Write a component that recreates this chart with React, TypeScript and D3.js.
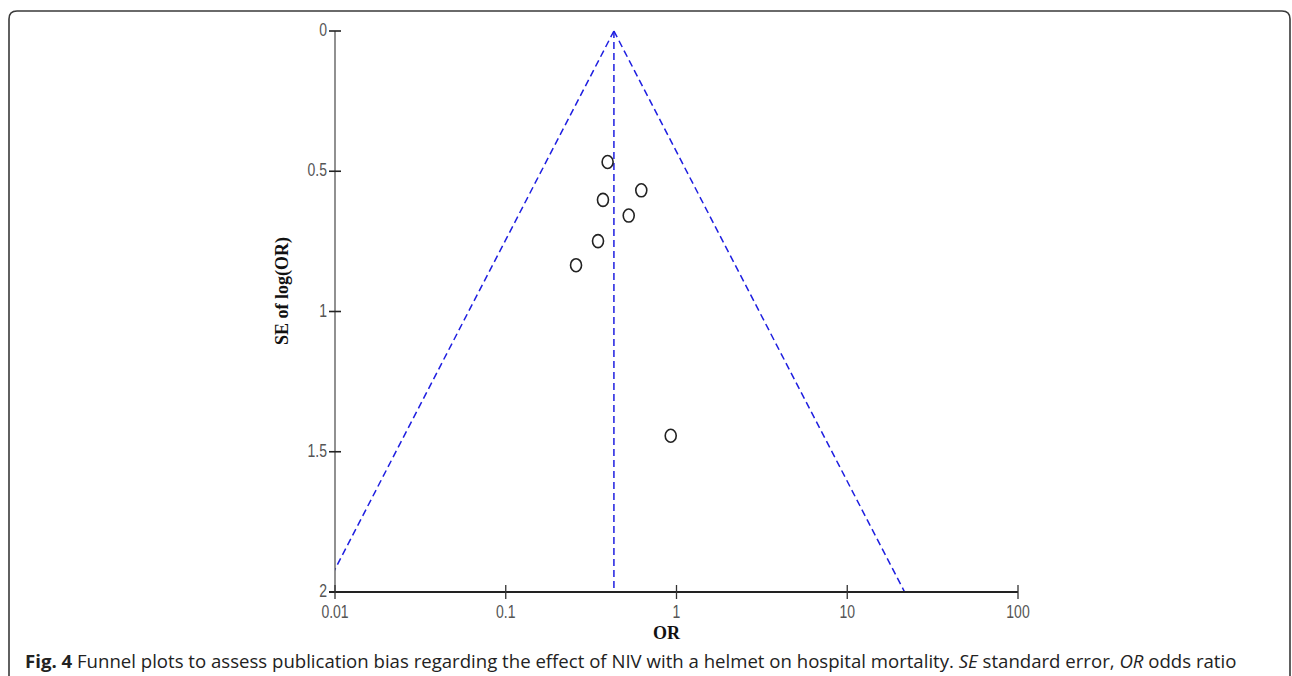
import React, { useEffect, useRef } from 'react'
import * as d3 from 'd3'

// study estimates
const studyOR = [0.395, 0.622, 0.371, 0.525, 0.347, 0.258, 0.925]
const studySE = [0.467, 0.568, 0.602, 0.658, 0.749, 0.835, 1.443]
const pooledOR = 0.43

const xTicks = [0.01, 0.1, 1, 10, 100]
const xTickLabels = ['0.01', '0.1', '1', '10', '100']
const yTicks = [0, 0.5, 1, 1.5, 2]
const yTickLabels = ['0', '0.5', '1', '1.5', '2']

const App = () => {
  const svgRef = useRef<SVGSVGElement>(null)

  useEffect(() => {
    const width = 1292
    const height = 676
    const left = 335
    const right = 1018
    const top = 31
    const bottom = 592

    const svg = d3.select(svgRef.current)
    svg.selectAll('*').remove()
    svg.attr('width', width).attr('height', height).attr('viewBox', [0, 0, width, height])

    // frame
    svg
      .append('path')
      .attr('d', `M9,${height} L9,19 Q9,11 17,11 L1282,11 Q1290,11 1290,19 L1290,${height}`)
      .attr('fill', 'none')
      .attr('stroke', '#3a3a3a')
      .attr('stroke-width', 1.6)

    const x = d3.scaleLog().domain([0.01, 100]).range([left, right])
    const y = d3.scaleLinear().domain([0, 2]).range([top, bottom])

    // funnel
    const z = 1.96 / Math.LN10
    const lp = Math.log10(pooledOR)
    const seMax = 2
    const clip = svg.append('clipPath').attr('id', 'plotclip')
    clip.append('rect').attr('x', left).attr('y', 0).attr('width', right - left).attr('height', bottom)
    const funnel = [
      [[pooledOR, 0], [Math.pow(10, lp - z * seMax), seMax]],
      [[pooledOR, 0], [Math.pow(10, lp + z * seMax), seMax]],
      [[pooledOR, 0], [pooledOR, seMax]],
    ]
    const line = d3
      .line<number[]>()
      .x((d) => x(d[0]))
      .y((d) => y(d[1]))
    svg
      .append('g')
      .attr('clip-path', 'url(#plotclip)')
      .selectAll('path')
      .data(funnel)
      .enter()
      .append('path')
      .attr('d', (d) => line(d))
      .attr('fill', 'none')
      .attr('stroke', '#1e1ee0')
      .attr('stroke-width', 1.5)
      .attr('stroke-dasharray', '7,4')

    // axes
    svg
      .append('line')
      .attr('x1', left)
      .attr('x2', left)
      .attr('y1', top)
      .attr('y2', bottom)
      .attr('stroke', '#555')
      .attr('stroke-width', 1.3)
    svg
      .append('line')
      .attr('x1', left - 6)
      .attr('x2', right)
      .attr('y1', bottom)
      .attr('y2', bottom)
      .attr('stroke', '#222')
      .attr('stroke-width', 2)

    const labelFont = 'Liberation Sans, Arial, sans-serif'

    const yAxis = svg.append('g')
    yTicks.forEach((t, i) => {
      yAxis
        .append('line')
        .attr('x1', left - 6)
        .attr('x2', left + 6)
        .attr('y1', y(t))
        .attr('y2', y(t))
        .attr('stroke', '#222')
        .attr('stroke-width', 1.6)
      yAxis
        .append('text')
        .attr('transform', `translate(${left - 8},${y(t) + 5}) scale(1,1.3)`)
        .attr('text-anchor', 'end')
        .attr('font-family', labelFont)
        .attr('font-size', 14)
        .attr('fill', '#555')
        .text(yTickLabels[i])
    })

    const xAxis = svg.append('g')
    xTicks.forEach((t, i) => {
      xAxis
        .append('line')
        .attr('x1', x(t))
        .attr('x2', x(t))
        .attr('y1', bottom - 7)
        .attr('y2', bottom + 7)
        .attr('stroke', '#333')
        .attr('stroke-width', 1.3)
      xAxis
        .append('text')
        .attr('transform', `translate(${x(t)},${bottom + 26}) scale(1,1.3)`)
        .attr('text-anchor', 'middle')
        .attr('font-family', labelFont)
        .attr('font-size', 14)
        .attr('fill', '#555')
        .text(xTickLabels[i])
    })

    // axis titles
    svg
      .append('text')
      .attr('x', x(1) - 10)
      .attr('y', 639)
      .attr('text-anchor', 'middle')
      .attr('font-family', 'Liberation Serif, Times New Roman, serif')
      .attr('font-weight', 'bold')
      .attr('font-size', 18)
      .attr('fill', '#111')
      .text('OR')
    svg
      .append('text')
      .attr('transform', `translate(288,291) rotate(-90)`)
      .attr('text-anchor', 'middle')
      .attr('font-family', 'Liberation Serif, Times New Roman, serif')
      .attr('font-weight', 'bold')
      .attr('font-size', 18)
      .attr('fill', '#111')
      .text('SE of log(OR)')

    // studies
    svg
      .append('g')
      .selectAll('ellipse')
      .data(studyOR.map((d, i) => [d, studySE[i]]))
      .enter()
      .append('ellipse')
      .attr('cx', (d) => x(d[0]))
      .attr('cy', (d) => y(d[1]))
      .attr('rx', 5.5)
      .attr('ry', 6.5)
      .attr('fill', 'none')
      .attr('stroke', '#222')
      .attr('stroke-width', 1.6)

    // caption
    const cap = svg
      .append('text')
      .attr('x', 25)
      .attr('y', 668)
      .attr('font-family', 'Open Sans, Noto Sans, sans-serif')
      .attr('font-size', 18.6)
      .attr('fill', '#222')
    cap.append('tspan').attr('font-weight', 'bold').text('Fig. 4')
    cap.append('tspan').text(' Funnel plots to assess publication bias regarding the effect of NIV with a helmet on hospital mortality. ')
    cap.append('tspan').attr('font-style', 'italic').text('SE')
    cap.append('tspan').text(' standard error, ')
    cap.append('tspan').attr('font-style', 'italic').text('OR')
    cap.append('tspan').text(' odds ratio')
  }, [])

  return <svg ref={svgRef} style={{ position: 'absolute', left: 0, top: 0, background: '#fff' }}></svg>
}

export default App
